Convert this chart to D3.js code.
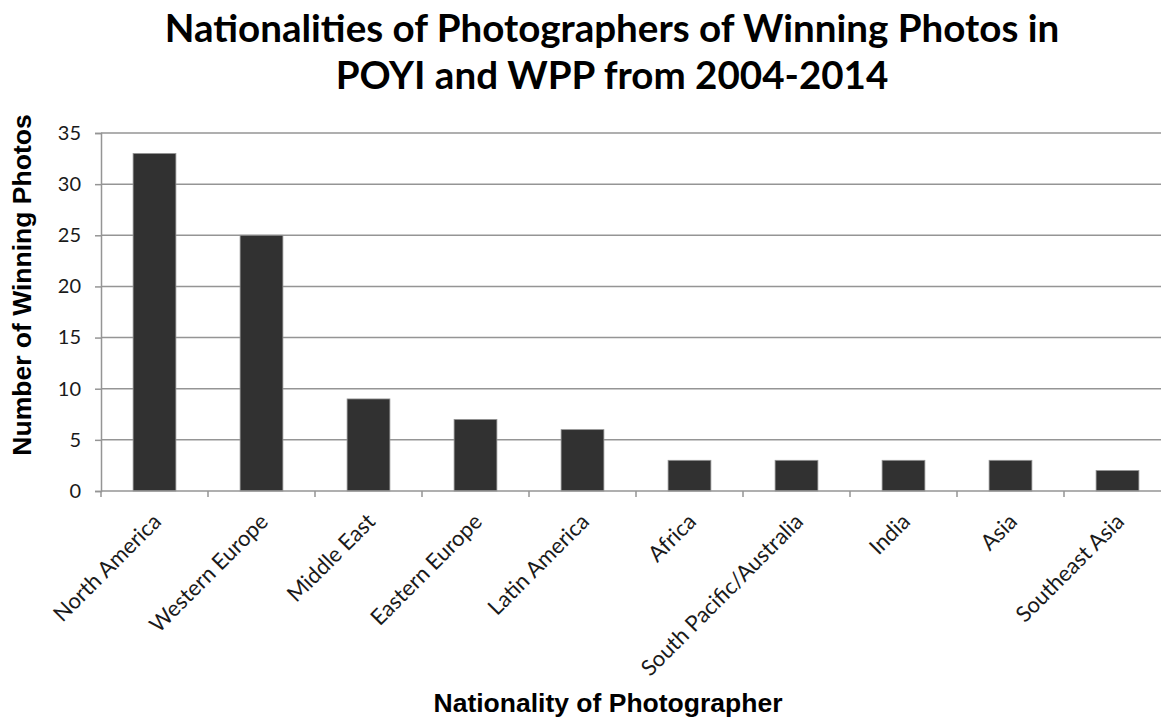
<!DOCTYPE html>
<html>
<head>
<meta charset="utf-8">
<script src="https://cdn.jsdelivr.net/npm/d3@7"></script>
<style>
  body { margin: 0; background: #fff; }
  svg { display: block; }
</style>
</head>
<body>
<div id="chart"></div>
<script>
const regions = [
  "North America", "Western Europe", "Middle East", "Eastern Europe", "Latin America",
  "Africa", "South Pacific/Australia", "India", "Asia", "Southeast Asia"
];
const winningPhotos = [33, 25, 9, 7, 6, 3, 3, 3, 3, 2];
const yTicks = [0, 5, 10, 15, 20, 25, 30, 35];
const titleLines = [
  "Nationalities of Photographers of Winning Photos in",
  "POYI and WPP from 2004-2014"
];

const width = 1161;
const height = 719;
const margin = { top: 133, right: -10, bottom: 228, left: 101 };

const svg = d3
  .select("#chart")
  .append("svg")
  .attr("width", width)
  .attr("height", height);

const x = d3
  .scaleBand()
  .domain(regions)
  .range([margin.left, width - margin.right])
  .paddingInner(0.6)
  .paddingOuter(0.3);

const y = d3
  .scaleLinear()
  .domain([0, 35])
  .range([height - margin.bottom, margin.top]);

const labelFont = "Lato, 'Open Sans', sans-serif";
const axisTitleFont = "'Liberation Sans', Arial, sans-serif";
const gridColor = "#959595";

// gridlines
svg
  .append("g")
  .selectAll("line")
  .data(yTicks.slice(1))
  .enter()
  .append("line")
  .attr("x1", margin.left)
  .attr("x2", width)
  .attr("y1", (d) => y(d))
  .attr("y2", (d) => y(d))
  .attr("stroke", gridColor)
  .attr("stroke-width", 1.5);

// bars
svg
  .append("g")
  .selectAll("rect")
  .data(winningPhotos)
  .enter()
  .append("rect")
  .attr("x", (d, i) => x(regions[i]))
  .attr("y", (d) => y(d))
  .attr("width", x.bandwidth())
  .attr("height", (d) => y(0) - y(d))
  .attr("fill", "#313131")
  .attr("stroke", gridColor)
  .attr("stroke-width", 0.8);

// y axis
const yAxis = svg
  .append("g")
  .attr("transform", `translate(${margin.left},0)`)
  .call(d3.axisLeft(y).tickValues(yTicks).tickSize(6).tickPadding(14));

yAxis.select(".domain").attr("stroke", gridColor).attr("stroke-width", 1.5);
yAxis.selectAll(".tick line").attr("stroke", gridColor).attr("stroke-width", 1.5);
yAxis
  .selectAll(".tick text")
  .attr("font-family", labelFont)
  .attr("font-size", 20)
  .attr("fill", "#1a1a1a");

// x axis line and ticks at band boundaries
const step = x.step();
const boundaries = regions.map((r) => x(r) - (step - x.bandwidth()) / 2);

svg
  .append("line")
  .attr("x1", margin.left)
  .attr("x2", width)
  .attr("y1", y(0))
  .attr("y2", y(0))
  .attr("stroke", gridColor)
  .attr("stroke-width", 1.5);

svg
  .append("g")
  .selectAll("line")
  .data(boundaries)
  .enter()
  .append("line")
  .attr("x1", (d) => d)
  .attr("x2", (d) => d)
  .attr("y1", y(0))
  .attr("y2", y(0) + 6)
  .attr("stroke", gridColor)
  .attr("stroke-width", 1.5);

// category labels
svg
  .append("g")
  .selectAll("text")
  .data(regions)
  .enter()
  .append("text")
  .text((d) => d)
  .attr(
    "transform",
    (d) => `translate(${x(d) + x.bandwidth() / 2 + 8}, ${y(0) + 32}) rotate(-45)`
  )
  .attr("text-anchor", "end")
  .attr("font-family", labelFont)
  .attr("font-size", 22)
  .attr("fill", "#1a1a1a");

// title, fitted to the width of the original first line
const title = svg
  .append("text")
  .attr("text-anchor", "middle")
  .attr("font-family", labelFont)
  .attr("font-weight", "bold")
  .attr("font-size", 36)
  .attr("fill", "#000");

const titleCenter = 612;
title.selectAll("tspan")
  .data(titleLines)
  .enter()
  .append("tspan")
  .attr("x", titleCenter)
  .attr("y", (d, i) => 42 + i * 47)
  .text((d) => d);

const firstLineWidth = title.select("tspan").node().getComputedTextLength();
title.attr("font-size", 36 * 895 / firstLineWidth);

// axis titles
svg
  .append("text")
  .text("Number of Winning Photos")
  .attr("transform", `translate(31, 285) rotate(-90)`)
  .attr("text-anchor", "middle")
  .attr("font-family", axisTitleFont)
  .attr("font-weight", "bold")
  .attr("font-size", 26.5)
  .attr("fill", "#000");

svg
  .append("text")
  .text("Nationality of Photographer")
  .attr("x", 608)
  .attr("y", 712)
  .attr("text-anchor", "middle")
  .attr("font-family", axisTitleFont)
  .attr("font-weight", "bold")
  .attr("font-size", 26.5)
  .attr("fill", "#000");
</script>
</body>
</html>
